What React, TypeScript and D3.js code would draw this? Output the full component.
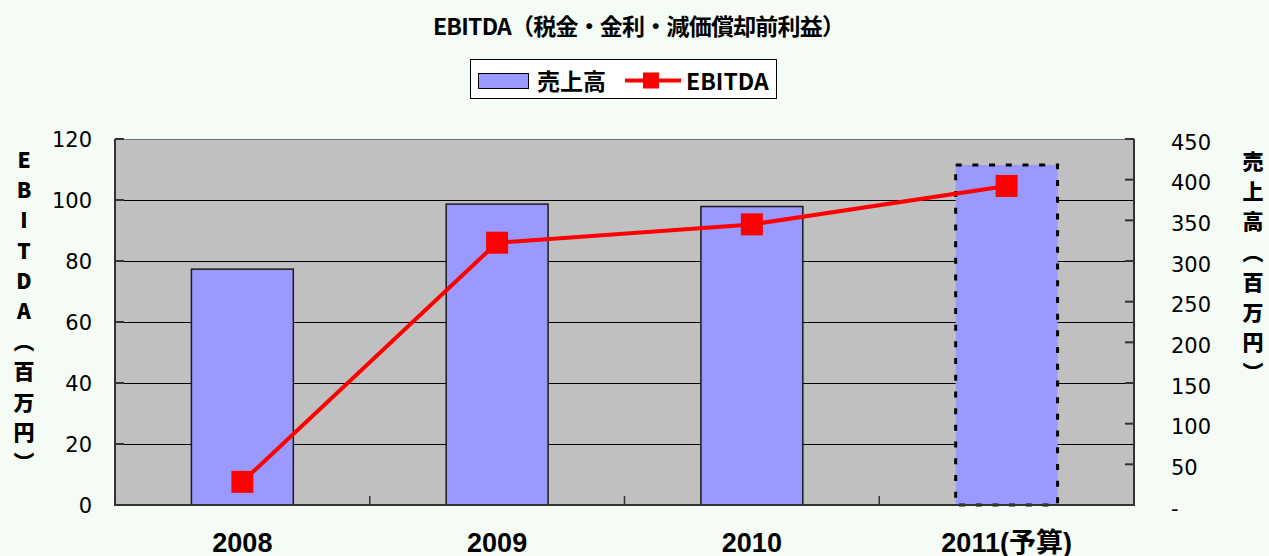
import React from "react";
import * as d3 from "d3";

const categories = ["2008", "2009", "2010", "2011(予算)"];
const salesValues = [290, 370, 367, 418];
const ebitdaValues = [7.6, 86, 92, 104.6];
const leftTicks = [0, 20, 40, 60, 80, 100, 120];
const rightTicks = [0, 50, 100, 150, 200, 250, 300, 350, 400, 450];
const leftTitleChars = ["E", "B", "I", "T", "D", "A", "︵", "百", "万", "円", "︶"];
const rightTitleChars = ["売", "上", "高", "︵", "百", "万", "円", "︶"];
const titleText = "EBITDA（税金・金利・減価償却前利益）";
const legendSales = "売上高";
const legendEbitda = "EBITDA";

const W = 1269;
const H = 556;
const plot = { left: 115, right: 1134, top: 139, bottom: 505 };

const CJK = "'Noto Sans CJK JP', 'Noto Sans CJK SC', sans-serif";
const NUM = "'DejaVu Sans', 'Noto Sans CJK JP', sans-serif";
const XLAB = "'Liberation Sans', 'Noto Sans CJK JP', sans-serif";

export default function App() {
  const x = d3
    .scaleBand<string>()
    .domain(categories)
    .range([plot.left, plot.right])
    .paddingInner(0.6)
    .paddingOuter(0.3);
  const step = x.step();
  const bw = x.bandwidth();
  const yL = d3.scaleLinear().domain([0, 120]).range([plot.bottom, plot.top]);
  const yR = d3.scaleLinear().domain([0, 450]).range([plot.bottom, plot.top]);
  const cx = (c: string) => (x(c) as number) + bw / 2;

  const line = d3
    .line<number>()
    .x((_, i) => cx(categories[i]))
    .y((d) => yL(d));

  const boundaries = d3.range(0, categories.length + 1).map((i) => plot.left + i * step);
  const ms = 22;

  return (
    <svg
      width={W}
      height={H}
      style={{ position: "absolute", left: 0, top: 0, display: "block" }}
    >
      <rect x={0} y={0} width={W} height={H} fill="#f5fbf5" />

      {/* Title */}
      <text
        x={639}
        y={35}
        textAnchor="middle"
        fontFamily={CJK}
        fontWeight="bold"
        fontSize={23}
        textLength={412}
        lengthAdjust="spacing"
        fill="#000"
      >
        {titleText}
      </text>

      {/* Legend */}
      <rect x={470.5} y={59.5} width={306} height={39} fill="#fff" stroke="#000" strokeWidth={1} />
      <rect x={478.5} y={73.5} width={50} height={15} fill="#9999ff" stroke="#000" strokeWidth={1} />
      <text x={537} y={90} fontFamily={CJK} fontWeight="bold" fontSize={23} fill="#000">
        {legendSales}
      </text>
      <line x1={625} x2={681} y1={80.5} y2={80.5} stroke="#ff0000" strokeWidth={4} />
      <rect x={643} y={72.5} width={16} height={16} fill="#ff0000" />
      <text x={686} y={90} fontFamily={CJK} fontWeight="bold" fontSize={23} fill="#000">
        {legendEbitda}
      </text>

      {/* Plot area */}
      <rect
        x={plot.left}
        y={plot.top}
        width={plot.right - plot.left}
        height={plot.bottom - plot.top}
        fill="#c0c0c0"
      />
      {leftTicks.slice(1).map((t) => (
        <line
          key={"g" + t}
          x1={plot.left}
          x2={plot.right}
          y1={Math.round(yL(t)) + 0.5}
          y2={Math.round(yL(t)) + 0.5}
          stroke={t === 120 ? "#707070" : "#000"}
          strokeWidth={1}
        />
      ))}

      {/* Bars */}
      {categories.map((c, i) => {
        const last = i === categories.length - 1;
        const y0 = yR(salesValues[i]);
        return (
          <rect
            key={"b" + c}
            x={x(c) as number}
            y={y0}
            width={bw}
            height={plot.bottom - y0}
            fill="#9999ff"
            stroke={last ? "#000" : "#1a1a1a"}
            strokeWidth={last ? 3 : 1.5}
            strokeDasharray={last ? "6 10.7" : undefined}
          />
        );
      })}

      {/* Axes lines */}
      <line x1={plot.left} x2={plot.left} y1={plot.top} y2={plot.bottom} stroke="#333" strokeWidth={2} />
      <line x1={plot.right} x2={plot.right} y1={plot.top} y2={plot.bottom} stroke="#333" strokeWidth={2} />
      <line x1={plot.left - 1} x2={plot.right + 1} y1={plot.bottom} y2={plot.bottom} stroke="#333" strokeWidth={2} />

      {/* Left ticks */}
      {leftTicks.map((t) => (
        <g key={"lt" + t}>
          <line
            x1={plot.left}
            x2={plot.left + 9}
            y1={yL(t)}
            y2={yL(t)}
            stroke="#333"
            strokeWidth={2}
          />
          <text
            x={92}
            y={yL(t)}
            dy="0.36em"
            textAnchor="end"
            fontFamily={NUM}
            fontSize={21}
            fill="#000"
          >
            {t}
          </text>
        </g>
      ))}

      {/* Right ticks */}
      {rightTicks.map((t) => (
        <g key={"rt" + t}>
          <line
            x1={plot.right - 9}
            x2={plot.right}
            y1={yR(t)}
            y2={yR(t)}
            stroke="#333"
            strokeWidth={2}
          />
          <text
            x={1171}
            y={yR(t) + 3}
            dy="0.36em"
            textAnchor="start"
            fontFamily={NUM}
            fontSize={21}
            fill="#000"
          >
            {t === 0 ? "-" : t}
          </text>
        </g>
      ))}

      {/* Bottom category ticks */}
      {boundaries.map((bx, i) => (
        <line
          key={"bt" + i}
          x1={bx}
          x2={bx}
          y1={plot.bottom - 9}
          y2={plot.bottom}
          stroke="#333"
          strokeWidth={1.5}
        />
      ))}

      {/* X labels */}
      {categories.map((c) => (
        <text
          key={"xl" + c}
          x={cx(c)}
          y={552}
          textAnchor="middle"
          fontFamily={XLAB}
          fontWeight="bold"
          fontSize={27}
          fill="#000"
        >
          {c}
        </text>
      ))}

      {/* EBITDA line */}
      <path d={line(ebitdaValues) || ""} fill="none" stroke="#ff0000" strokeWidth={4} />
      {ebitdaValues.map((v, i) => (
        <rect
          key={"m" + i}
          x={cx(categories[i]) - ms / 2}
          y={yL(v) - ms / 2}
          width={ms}
          height={ms}
          fill="#ff0000"
        />
      ))}

      {/* Axis titles */}
      <text
        x={24}
        textAnchor="middle"
        fontFamily={CJK}
        fontWeight={900}
        fontSize={21}
        fill="#000"
      >
        {leftTitleChars.map((ch, i) => (
          <tspan key={"lc" + i} x={24} y={168 + i * 30.2}>
            {ch}
          </tspan>
        ))}
      </text>
      <text
        x={1253}
        textAnchor="middle"
        fontFamily={CJK}
        fontWeight={900}
        fontSize={21}
        fill="#000"
      >
        {rightTitleChars.map((ch, i) => (
          <tspan key={"rc" + i} x={1253} y={169 + i * 30.2}>
            {ch}
          </tspan>
        ))}
      </text>
    </svg>
  );
}
